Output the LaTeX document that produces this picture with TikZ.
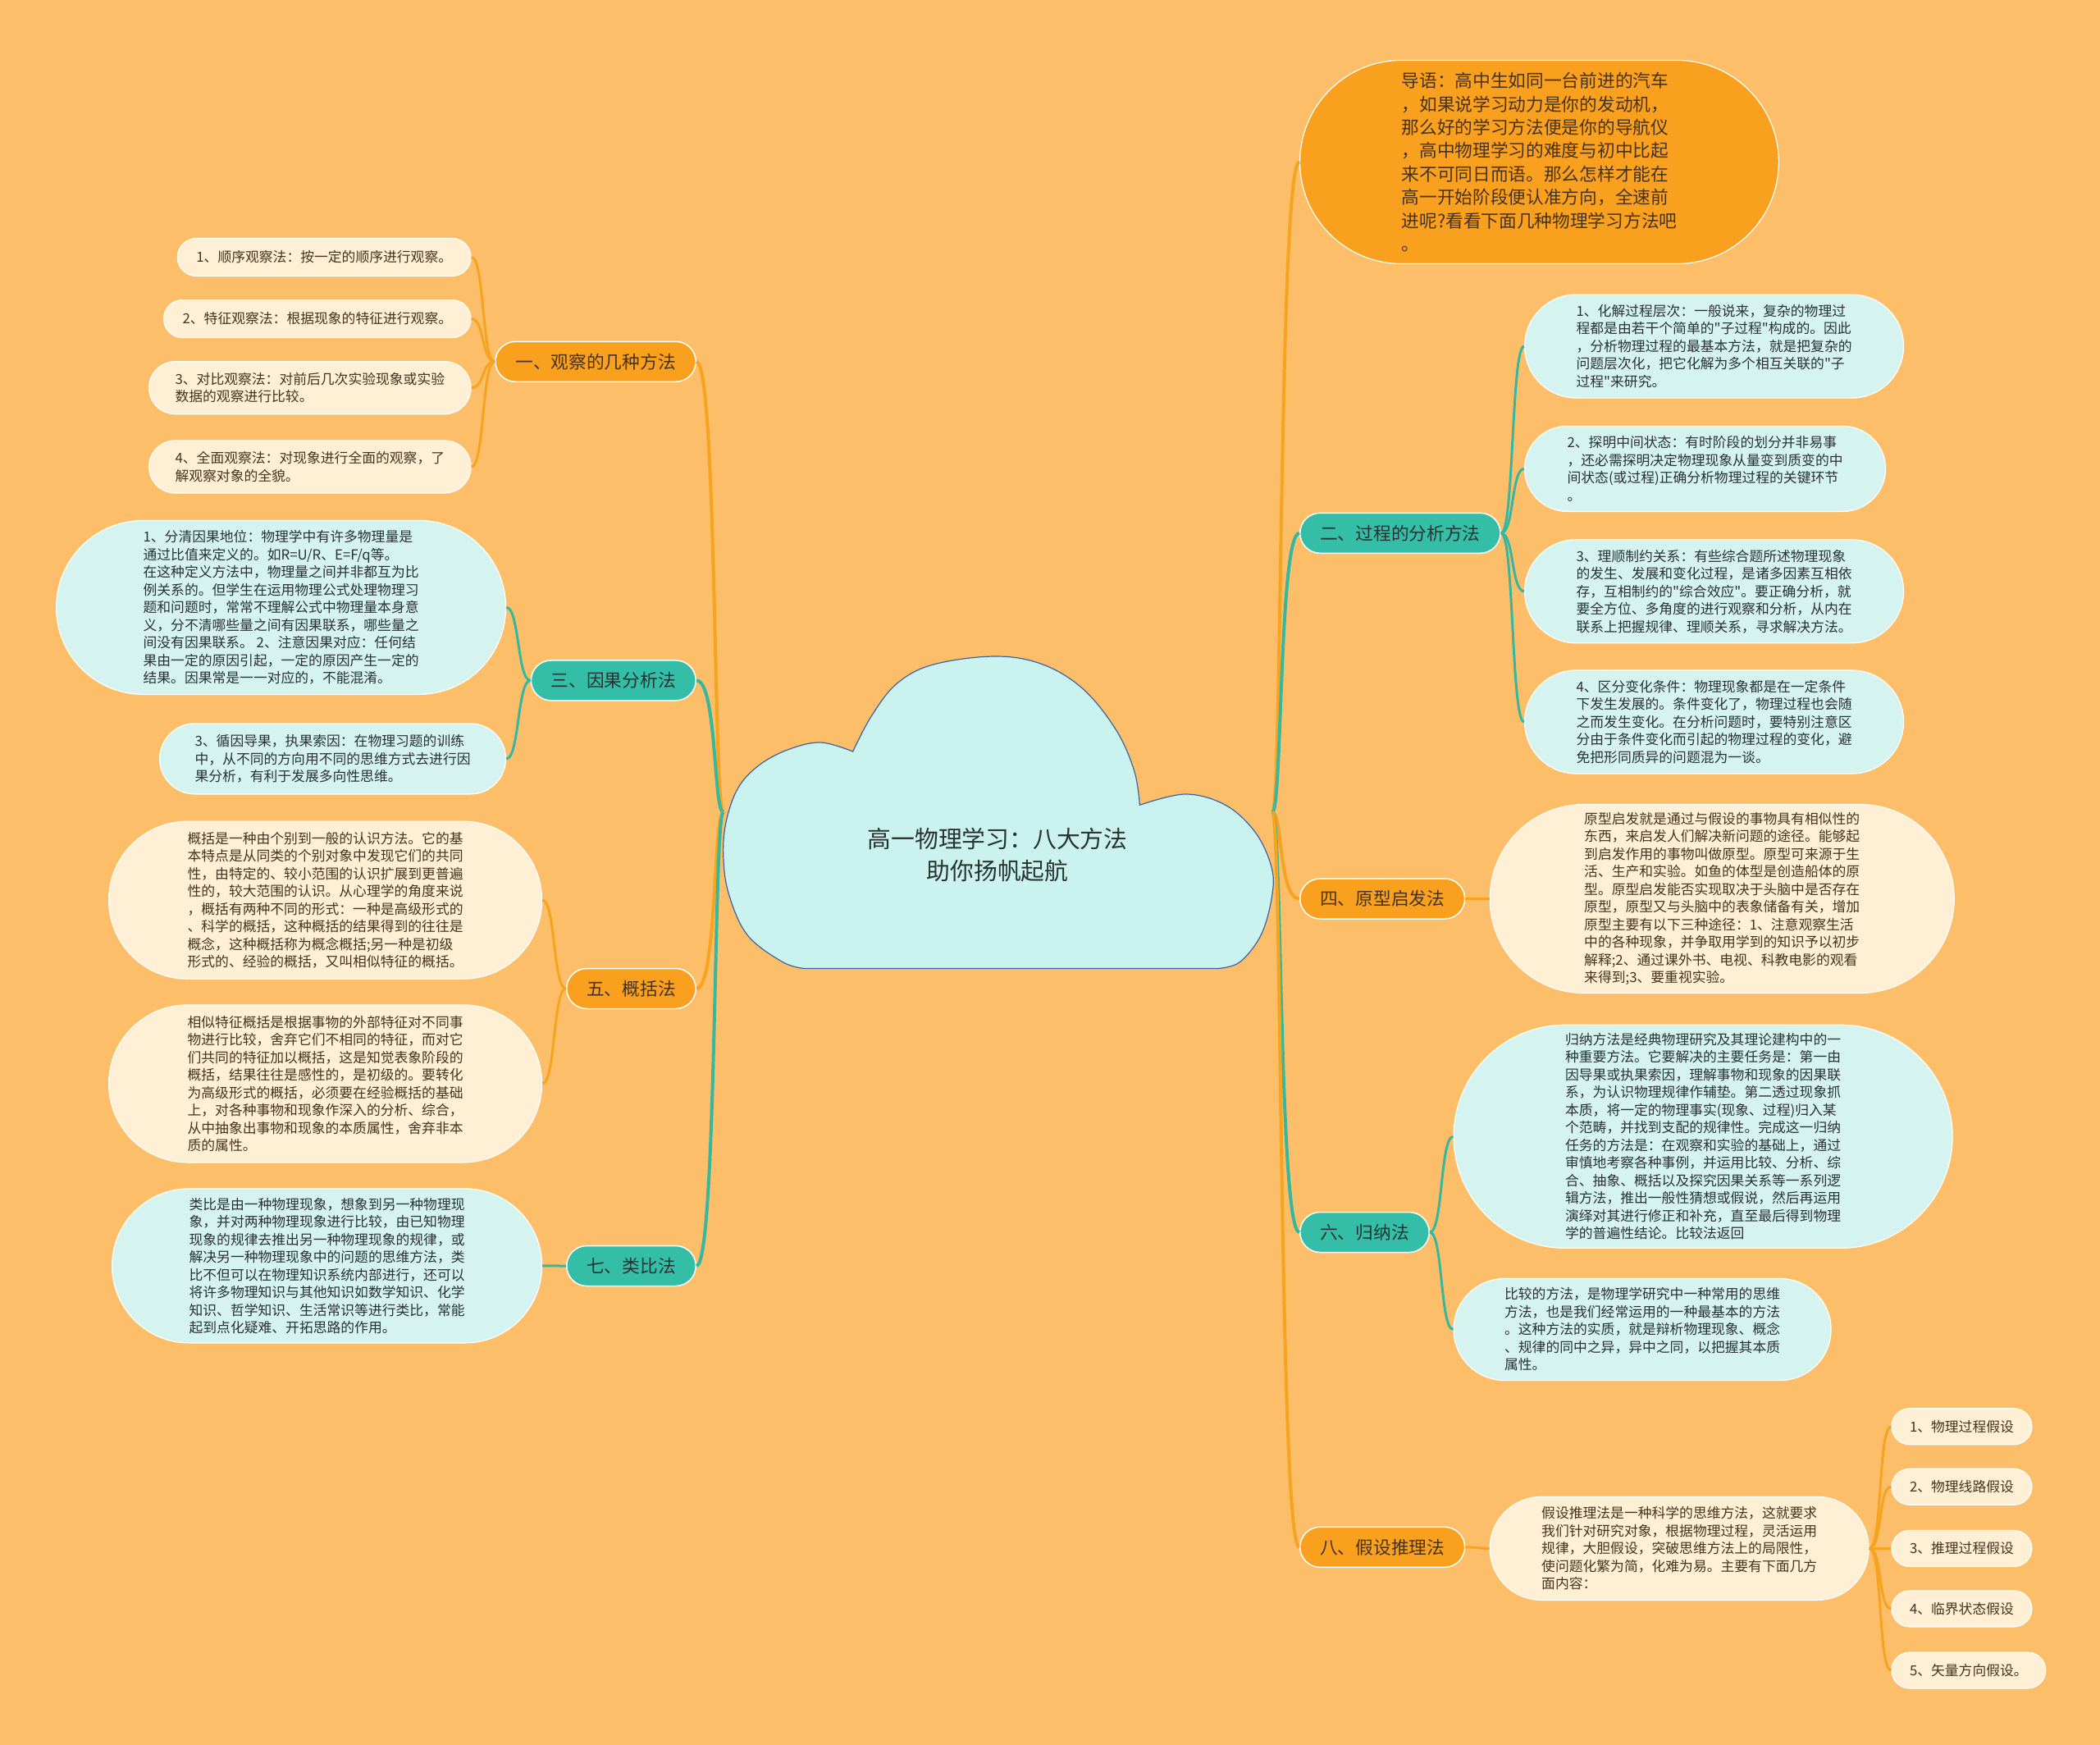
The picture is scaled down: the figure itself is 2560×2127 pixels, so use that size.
\documentclass[tikz,border=0pt]{standalone}
\usepackage{fontspec}
\setmainfont{Noto Sans CJK SC}
\definecolor{bgor}{RGB}{253,190,105}
\definecolor{mainor}{RGB}{249,161,30}
\definecolor{mainteal}{RGB}{52,190,168}
\definecolor{lineor}{RGB}{246,164,32}
\definecolor{lineteal}{RGB}{55,184,158}
\definecolor{cyfill}{RGB}{213,243,239}
\definecolor{crfill}{RGB}{255,239,212}
\definecolor{cloudfill}{RGB}{202,243,240}
\definecolor{cloudline}{RGB}{62,98,160}
\definecolor{txtbrown}{RGB}{70,50,30}
\definecolor{txtdark}{RGB}{40,50,50}

\begin{document}
\begin{tikzpicture}[x=1pt, y=-1pt,
  leaf/.style={rectangle, minimum height=2*#1, rounded corners=#1, inner xsep=#1, inner ysep=0pt, draw=white, line width=1.2pt, align=left, font=\fontsize{16.8}{21.5}\selectfont},
  crleaf/.style={leaf=#1, fill=crfill, text=txtbrown},
  cyleaf/.style={leaf=#1, fill=cyfill, text=txtdark},
  branch/.style={rectangle, minimum height=49pt, rounded corners=24.5pt, inner xsep=24.5pt, inner ysep=0pt, draw=white, line width=1.5pt, font=\fontsize{21.7}{26}\selectfont},
  orbranch/.style={branch, fill=mainor, text=txtbrown},
  tlbranch/.style={branch, fill=mainteal, text=txtdark},
  orline/.style={draw=lineor, line width=3pt},
  tlline/.style={draw=lineteal, line width=3pt},
  trunk/.style={line width=4pt}]

% background
\fill[bgor] (0,0) rectangle (2560,2127);
\useasboundingbox (0,0) rectangle (2560,2127);

% cloud
\filldraw[fill=cloudfill, draw=cloudline, line width=1.2pt]
  plot[smooth, tension=0.6] coordinates {(979.6,1180.4) (953.5,1172.3) (911.0,1139.6) (888.2,1089.0) (881.7,1041.7) (885.5,1000) (900,960) (925,933) (960,914) (1000,905) (1039.7,916.0)}
  -- plot[smooth, tension=0.6] coordinates {(1039.7,916.0) (1062.1,873.2) (1093.2,833.3) (1137.8,810.0) (1213.6,800.0) (1271.4,810.0) (1320.4,839.9) (1360.5,889.7) (1382.7,939.6) (1389.4,981.3)}
  -- plot[smooth, tension=0.6] coordinates {(1389.4,981.3) (1445.0,968.0) (1493.9,981.3) (1529.8,1013.9) (1549.4,1054.7) (1551.1,1089.0) (1538.0,1138.0) (1511.9,1172.3) (1485.8,1180.4)}
  -- cycle;
\node[align=center, font=\fontsize{28.8}{39}\selectfont, text=txtdark] (root) at (1216,1042) {高一物理学习：八大方法\\助你扬帆起航};
\coordinate (cL) at (881.7,990);
\coordinate (cR) at (1551.1,990);

% branches
\node[orbranch, anchor=east] (b1) at (849,440.8) {一、观察的几种方法};
\node[tlbranch, anchor=east] (b3) at (849,829.4) {三、因果分析法};
\node[orbranch, anchor=east] (b5) at (849,1205) {五、概括法};
\node[tlbranch, anchor=east] (b7) at (849,1543) {七、类比法};
\node[rectangle, minimum height=248pt, rounded corners=124pt, inner xsep=124pt, inner ysep=0pt, fill=mainor, draw=white, line width=1.2pt, text=txtbrown, align=left, font=\fontsize{21.7}{28.4}\selectfont, anchor=west] (intro) at (1584,197.5)
  {导语：高中生如同一台前进的汽车\\，如果说学习动力是你的发动机，\\那么好的学习方法便是你的导航仪\\，高中物理学习的难度与初中比起\\来不可同日而语。那么怎样才能在\\高一开始阶段便认准方向，全速前\\进呢?看看下面几种物理学习方法吧\\。};
\node[tlbranch, anchor=west] (b2) at (1584,649.8) {二、过程的分析方法};
\node[orbranch, anchor=west] (b4) at (1584,1095.5) {四、原型启发法};
\node[tlbranch, anchor=west] (b6) at (1584,1502) {六、归纳法};
\node[orbranch, anchor=west] (b8) at (1584,1885.8) {八、假设推理法};

\draw[orline, trunk] (cL) .. controls +(-12,0) and +(25,0) .. (b1.east);
\draw[tlline, trunk] (cL) .. controls +(-12,0) and +(25,0) .. (b3.east);
\draw[orline, trunk] (cL) .. controls +(-12,0) and +(25,0) .. (b5.east);
\draw[tlline, trunk] (cL) .. controls +(-12,0) and +(25,0) .. (b7.east);
\draw[orline, trunk] (cR) .. controls +(12,0) and +(-25,0) .. (intro.west);
\draw[tlline, trunk] (cR) .. controls +(12,0) and +(-25,0) .. (b2.west);
\draw[orline, trunk] (cR) .. controls +(12,0) and +(-25,0) .. (b4.west);
\draw[tlline, trunk] (cR) .. controls +(12,0) and +(-25,0) .. (b6.west);
\draw[orline, trunk] (cR) .. controls +(12,0) and +(-25,0) .. (b8.west);

% left leaves
\node[crleaf=23pt, anchor=east] (l11) at (574.7,313.5) {1、顺序观察法：按一定的顺序进行观察。};
\node[crleaf=23pt, anchor=east] (l12) at (574.7,388.6) {2、特征观察法：根据现象的特征进行观察。};
\node[crleaf=32pt, anchor=east] (l13) at (574.7,472.7) {3、对比观察法：对前后几次实验现象或实验\\数据的观察进行比较。};
\node[crleaf=32pt, anchor=east] (l14) at (574.7,569.0) {4、全面观察法：对现象进行全面的观察，了\\解观察对象的全貌。};
\node[cyleaf=106pt, anchor=east] (l31) at (617.2,740.4)
  {1、分清因果地位：物理学中有许多物理量是\\通过比值来定义的。如R=U/R、E=F/q等。\\在这种定义方法中，物理量之间并非都互为比\\例关系的。但学生在运用物理公式处理物理习\\题和问题时，常常不理解公式中物理量本身意\\义，分不清哪些量之间有因果联系，哪些量之\\间没有因果联系。 2、注意因果对应：任何结\\果由一定的原因引起，一定的原因产生一定的\\结果。因果常是一一对应的，不能混淆。};
\node[cyleaf=43pt, anchor=east] (l32) at (617.2,924.9)
  {3、循因导果，执果索因：在物理习题的训练\\中，从不同的方向用不同的思维方式去进行因\\果分析，有利于发展多向性思维。};
\node[crleaf=96pt, anchor=east] (l51) at (661.2,1097.2)
  {概括是一种由个别到一般的认识方法。它的基\\本特点是从同类的个别对象中发现它们的共同\\性，由特定的、较小范围的认识扩展到更普遍\\性的，较大范围的认识。从心理学的角度来说\\，概括有两种不同的形式：一种是高级形式的\\、科学的概括，这种概括的结果得到的往往是\\概念，这种概括称为概念概括;另一种是初级\\形式的、经验的概括，又叫相似特征的概括。};
\node[crleaf=96pt, anchor=east] (l52) at (661.2,1320.9)
  {相似特征概括是根据事物的外部特征对不同事\\物进行比较，舍弃它们不相同的特征，而对它\\们共同的特征加以概括，这是知觉表象阶段的\\概括，结果往往是感性的，是初级的。要转化\\为高级形式的概括，必须要在经验概括的基础\\上，对各种事物和现象作深入的分析、综合，\\从中抽象出事物和现象的本质属性，舍弃非本\\质的属性。};
\node[cyleaf=94pt, anchor=east] (l71) at (661.2,1542.9)
  {类比是由一种物理现象，想象到另一种物理现\\象，并对两种物理现象进行比较，由已知物理\\现象的规律去推出另一种物理现象的规律，或\\解决另一种物理现象中的问题的思维方法，类\\比不但可以在物理知识系统内部进行，还可以\\将许多物理知识与其他知识如数学知识、化学\\知识、哲学知识、生活常识等进行类比，常能\\起到点化疑难、开拓思路的作用。};

\foreach \l in {l11,l12,l13,l14}
  \draw[orline] (b1.west) .. controls +(-16,0) and +(16,0) .. (\l.east);
\foreach \l in {l31,l32}
  \draw[tlline] (b3.west) .. controls +(-16,0) and +(16,0) .. (\l.east);
\foreach \l in {l51,l52}
  \draw[orline] (b5.west) .. controls +(-16,0) and +(16,0) .. (\l.east);
\draw[tlline] (b7.west) .. controls +(-16,0) and +(16,0) .. (l71.east);

% right leaves
\node[cyleaf=63pt, anchor=west] (l21) at (1858,422.1)
  {1、化解过程层次：一般说来，复杂的物理过\\程都是由若干个简单的\textquotedbl{}子过程\textquotedbl{}构成的。因此\\，分析物理过程的最基本方法，就是把复杂的\\问题层次化，把它化解为多个相互关联的\textquotedbl{}子\\过程\textquotedbl{}来研究。};
\node[cyleaf=52pt, anchor=west] (l22) at (1858,571.4)
  {2、探明中间状态：有时阶段的划分并非易事\\，还必需探明决定物理现象从量变到质变的中\\间状态(或过程)正确分析物理过程的关键环节\\。};
\node[cyleaf=63pt, anchor=west] (l23) at (1858,720.8)
  {3、理顺制约关系：有些综合题所述物理现象\\的发生、发展和变化过程，是诸多因素互相依\\存，互相制约的\textquotedbl{}综合效应\textquotedbl{}。要正确分析，就\\要全方位、多角度的进行观察和分析，从内在\\联系上把握规律、理顺关系，寻求解决方法。};
\node[cyleaf=63pt, anchor=west] (l24) at (1858,880)
  {4、区分变化条件：物理现象都是在一定条件\\下发生发展的。条件变化了，物理过程也会随\\之而发生变化。在分析问题时，要特别注意区\\分由于条件变化而引起的物理过程的变化，避\\免把形同质异的问题混为一谈。};
\node[crleaf=115pt, anchor=west] (l41) at (1815.6,1095.5)
  {原型启发就是通过与假设的事物具有相似性的\\东西，来启发人们解决新问题的途径。能够起\\到启发作用的事物叫做原型。原型可来源于生\\活、生产和实验。如鱼的体型是创造船体的原\\型。原型启发能否实现取决于头脑中是否存在\\原型，原型又与头脑中的表象储备有关，增加\\原型主要有以下三种途径：1、注意观察生活\\中的各种现象，并争取用学到的知识予以初步\\解释;2、通过课外书、电视、科教电影的观看\\来得到;3、要重视实验。};
\node[cyleaf=136pt, anchor=west] (l61) at (1771.5,1385.3)
  {归纳方法是经典物理研究及其理论建构中的一\\种重要方法。它要解决的主要任务是：第一由\\因导果或执果索因，理解事物和现象的因果联\\系，为认识物理规律作辅垫。第二透过现象抓\\本质，将一定的物理事实(现象、过程)归入某\\个范畴，并找到支配的规律性。完成这一归纳\\任务的方法是：在观察和实验的基础上，通过\\审慎地考察各种事例，并运用比较、分析、综\\合、抽象、概括以及探究因果关系等一系列逻\\辑方法，推出一般性猜想或假说，然后再运用\\演绎对其进行修正和补充，直至最后得到物理\\学的普遍性结论。比较法返回};
\node[cyleaf=62pt, anchor=west] (l62) at (1771.5,1620.5)
  {比较的方法，是物理学研究中一种常用的思维\\方法，也是我们经常运用的一种最基本的方法\\。这种方法的实质，就是辩析物理现象、概念\\、规律的同中之异，异中之同，以把握其本质\\属性。};
\node[crleaf=63pt, anchor=west] (l81) at (1815.6,1887.4)
  {假设推理法是一种科学的思维方法，这就要求\\我们针对研究对象，根据物理过程，灵活运用\\规律，大胆假设，突破思维方法上的局限性，\\使问题化繁为简，化难为易。主要有下面几方\\面内容：};

\foreach \l in {l21,l22,l23,l24}
  \draw[tlline] (b2.east) .. controls +(16,0) and +(-16,0) .. (\l.west);
\draw[orline] (b4.east) .. controls +(16,0) and +(-16,0) .. (l41.west);
\foreach \l in {l61,l62}
  \draw[tlline] (b6.east) .. controls +(16,0) and +(-16,0) .. (\l.west);
\draw[orline] (b8.east) .. controls +(16,0) and +(-16,0) .. (l81.west);

\foreach \n/\t/\y in {1/物理过程假设/1738.8, 2/物理线路假设/1812.3, 3/推理过程假设/1887.4, 4/临界状态假设/1960.9, 5/矢量方向假设。/2036} {
  \node[crleaf=22pt, anchor=west] (s\n) at (2305.4,\y) {\n、\t};
  \draw[orline] (l81.east) .. controls +(16,0) and +(-16,0) .. (s\n.west);
}
\end{tikzpicture}
\end{document}
